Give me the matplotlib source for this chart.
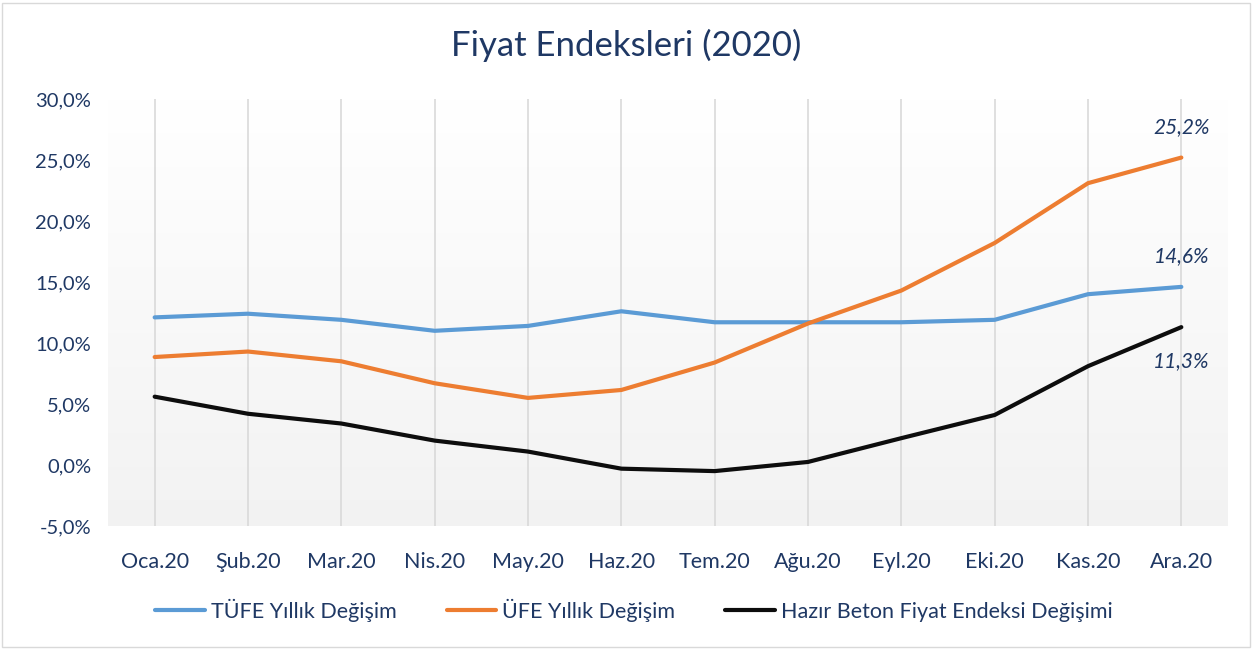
import numpy as np
import matplotlib
matplotlib.use("Agg")
import matplotlib.pyplot as plt
from matplotlib.patches import Rectangle

plt.rcParams['font.family'] = ['Lato', 'DejaVu Sans']

months = ['Oca.20', 'Şub.20', 'Mar.20', 'Nis.20', 'May.20', 'Haz.20',
          'Tem.20', 'Ağu.20', 'Eyl.20', 'Eki.20', 'Kas.20', 'Ara.20']
tufe = [12.1, 12.4, 11.9, 11.0, 11.4, 12.6, 11.7, 11.7, 11.7, 11.9, 14.0, 14.6]
ufe = [8.85, 9.3, 8.5, 6.7, 5.5, 6.15, 8.4, 11.6, 14.3, 18.2, 23.1, 25.2]
beton = [5.6, 4.2, 3.4, 2.0, 1.1, -0.3, -0.5, 0.25, 2.2, 4.1, 8.1, 11.3]
yticks = [-5, 0, 5, 10, 15, 20, 25, 30]

navy = '#1f3864'
W, H = 1253, 649
fig = plt.figure(figsize=(W / 100, H / 100), dpi=100)
fig.patch.set_facecolor('white')
fig.patches.append(Rectangle((2 / W, 2 / H), 1 - 5 / W, 1 - 5 / H, transform=fig.transFigure,
                             fill=False, edgecolor='#d9d9d9', lw=1))

left, right, top, bottom = 108, 1228, 99, 526
ax = fig.add_axes([left / W, 1 - bottom / H, (right - left) / W, (bottom - top) / H])

# plot-area gradient (white at top to light grey at bottom)
grad = np.linspace(1.0, 0.95, 256).reshape(-1, 1)
ax.imshow(np.dstack([grad, grad, grad]), extent=[0, 1, 0, 1], transform=ax.transAxes,
          origin='upper', aspect='auto', zorder=0)

x = np.arange(len(months))
for xi in x:
    ax.axvline(xi, color='#d9d9d9', lw=1.2, zorder=1)

ax.plot(x, tufe, color='#5b9bd5', lw=3, solid_capstyle='round', zorder=3, label='TÜFE Yıllık Değişim')
ax.plot(x, ufe, color='#ed7d31', lw=3, solid_capstyle='round', zorder=3, label='ÜFE Yıllık Değişim')
ax.plot(x, beton, color='#0d0d0d', lw=3, solid_capstyle='round', zorder=3,
        label='Hazır Beton Fiyat Endeksi Değişimi')

ax.set_xlim(-0.5, 11.5)
ax.set_ylim(-5, 30)
ax.set_yticks(yticks)
ax.set_yticklabels([f'{v:.1f}%'.replace('.', ',') for v in yticks])
ax.set_xticks(x)
ax.set_xticklabels(months)
ax.tick_params(axis='both', length=0, labelsize=14.5, colors=navy)
ax.tick_params(axis='x', labelsize=15.5, pad=19)
ax.tick_params(axis='y', pad=12)
for s in ax.spines.values():
    s.set_visible(False)

# end-point labels
ax.annotate(f'{ufe[-1]:.1f}%'.replace('.', ','), (x[-1], ufe[-1]), xytext=(0, 15),
            textcoords='offset points', ha='center', va='bottom', fontsize=15,
            style='italic', color=navy)
ax.annotate(f'{tufe[-1]:.1f}%'.replace('.', ','), (x[-1], tufe[-1]), xytext=(0, 15),
            textcoords='offset points', ha='center', va='bottom', fontsize=15,
            style='italic', color=navy)
ax.annotate(f'{beton[-1]:.1f}%'.replace('.', ','), (x[-1], beton[-1]), xytext=(0, -17),
            textcoords='offset points', ha='center', va='top', fontsize=15,
            style='italic', color=navy)

fig.text(0.5, 1 - 45 / H, 'Fiyat Endeksleri (2020)', ha='center', va='center',
         fontsize=25, color=navy)

leg = fig.legend(loc='center', bbox_to_anchor=(634 / W, 1 - 610 / H), ncol=3, frameon=False,
                 fontsize=15.5, handlelength=2.3, columnspacing=2.3, handletextpad=0.3)
for t in leg.get_texts():
    t.set_color(navy)

fig.savefig('out.png', dpi=100)
